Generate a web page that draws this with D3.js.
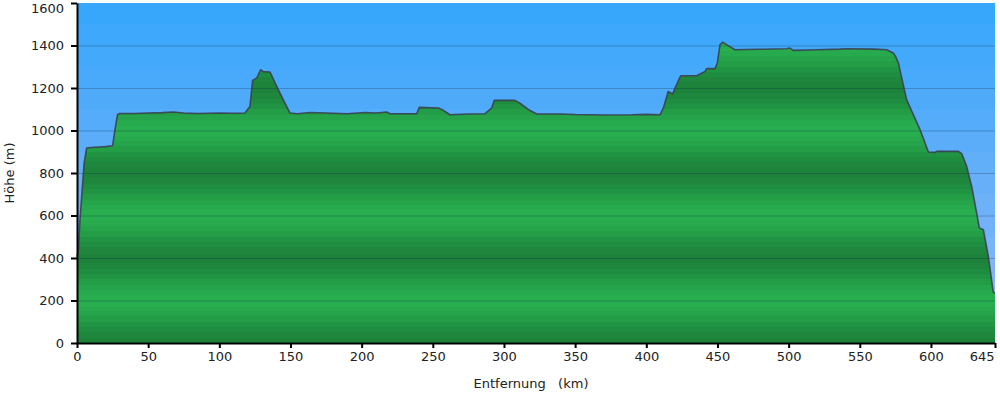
<!DOCTYPE html>
<html>
<head>
<meta charset="utf-8">
<script src="https://cdn.jsdelivr.net/npm/d3@7"></script>
<style>
  body { margin: 0; background: #fff; }
  svg { display: block; font-family: "DejaVu Sans", Verdana, sans-serif; }
  .tick text { font-size: 13px; fill: #222; }
</style>
</head>
<body>
<svg id="chart" width="1000" height="394"></svg>
<script>
// distance along the route (km) and elevation (m)
var distanceKm = [0, 1, 2, 3.3, 5, 6.8, 10, 15, 20, 25, 26.7, 28.5, 30, 40, 50, 60, 67.7, 75, 85, 100,
  110, 118, 121.5, 123.4, 126.3, 129, 131, 135.6, 142.6, 149.6, 155, 163.7, 175, 189.5, 202.3, 210,
  217.6, 220, 238.7, 240.5, 253.9, 257.4, 262, 275, 286.7, 291.4, 293.2, 307.7, 311.2, 318, 323,
  340, 350, 370, 390, 400, 409.6, 412, 415.4, 418.5, 420.2, 424.2, 435.4, 441.2, 442.4, 448.3,
  449.9, 451.8, 453.6, 456.4, 462.3, 480, 498.6, 500.9, 503.3, 520, 536, 540.8, 559.5, 568.9,
  573.5, 575, 577.1, 582.9, 592.3, 598.2, 602.9, 604.1, 619.3, 621.6, 625.1, 628.6, 632.1, 634,
  636.8, 640.3, 643.8, 645];
var elevationM = [405, 440, 570, 690, 847, 918, 920, 922, 924, 928, 1004, 1075, 1080, 1080, 1082, 1084, 1087, 1082, 1080, 1082,
  1081, 1082, 1113, 1236, 1247, 1286, 1277, 1275, 1176, 1082, 1079, 1085, 1082, 1079, 1085, 1082,
  1087, 1079, 1079, 1109, 1106, 1095, 1074, 1078, 1079, 1106, 1142, 1142, 1129, 1095, 1078,
  1078, 1075, 1073, 1074, 1076, 1074, 1106, 1184, 1172, 1200, 1258, 1258, 1278, 1291, 1291,
  1318, 1404, 1415, 1404, 1380, 1382, 1385, 1388, 1377, 1380, 1383, 1385, 1383, 1380,
  1365, 1350, 1318, 1145, 1004, 899, 897, 902, 902, 891, 831, 737, 612, 541,
  533, 408, 238, 238];

var xTicks = [0, 50, 100, 150, 200, 250, 300, 350, 400, 450, 500, 550, 600, 645];
var yTicks = [0, 200, 400, 600, 800, 1000, 1200, 1400, 1600];

var profile = distanceKm.map(function (d, i) { return { km: d, m: elevationM[i] }; });

var margin = { top: 3, right: 5, bottom: 51, left: 77 };
var outerWidth = 1000, outerHeight = 394;
var width = outerWidth - margin.left - margin.right;
var height = outerHeight - margin.top - margin.bottom;

var svg = d3.select('#chart');
var defs = svg.append('defs');

var x = d3.scaleLinear().domain([0, 645]).range([0, width]);
var y = d3.scaleLinear().domain([0, 1600]).range([height, 0]);

// sky: light at the bottom, deep blue at the top, in steps of 100 m
var sky = defs.append('linearGradient')
  .attr('id', 'sky').attr('gradientUnits', 'userSpaceOnUse')
  .attr('x1', 0).attr('x2', 0).attr('y1', y(0)).attr('y2', y(1600));
var skyColor = d3.interpolateRgb('#91b7f6', '#37a7fc');
for (var s = 0; s < 16; s++) {
  var c = skyColor(s / 15);
  sky.append('stop').attr('offset', s / 16).attr('stop-color', c);
  sky.append('stop').attr('offset', (s + 1) / 16).attr('stop-color', c);
}

// ground: banded green, darkest at every 400 m
var ground = defs.append('linearGradient')
  .attr('id', 'ground').attr('gradientUnits', 'userSpaceOnUse')
  .attr('x1', 0).attr('x2', 0).attr('y1', y(0)).attr('y2', y(1600));
var groundColor = d3.interpolateRgb('#1d833b', '#28ae4f');
var bands = 64;
for (var b = 0; b < bands; b++) {
  var mid = (b + 0.5) * 1600 / bands;
  var t = (1 - Math.cos(2 * Math.PI * mid / 400)) / 2;
  var gc = groundColor(t);
  ground.append('stop').attr('offset', b / bands).attr('stop-color', gc);
  ground.append('stop').attr('offset', (b + 1) / bands).attr('stop-color', gc);
}

var g = svg.append('g').attr('transform', 'translate(' + margin.left + ',' + margin.top + ')');

g.append('rect').attr('width', width).attr('height', height).attr('fill', 'url(#sky)');

var area = d3.area()
  .x(function (d) { return x(d.km); })
  .y0(y(0))
  .y1(function (d) { return y(d.m); });

g.append('path').datum(profile)
  .attr('d', area)
  .attr('fill', 'url(#ground)');

// grid lines over sky and ground
g.append('g').selectAll('line')
  .data(yTicks.slice(1, -1))
  .enter().append('line')
  .attr('x1', 0).attr('x2', width)
  .attr('y1', function (d) { return y(d) + 0.5; })
  .attr('y2', function (d) { return y(d) + 0.5; })
  .attr('stroke', 'rgba(10,40,70,0.28)')
  .attr('stroke-width', 1);

var line = d3.line()
  .x(function (d) { return x(d.km); })
  .y(function (d) { return y(d.m); });

g.append('path').datum(profile)
  .attr('d', line)
  .attr('fill', 'none')
  .attr('stroke', '#3a3c4c')
  .attr('stroke-opacity', 0.85)
  .attr('stroke-width', 1.6)
  .attr('stroke-linejoin', 'round');

// axes
var yAxis = g.append('g')
  .call(d3.axisLeft(y).tickValues(yTicks).tickFormat(d3.format('d'))
    .tickSize(6).tickSizeOuter(0).tickPadding(7));
var xAxis = g.append('g')
  .attr('transform', 'translate(0,' + height + ')')
  .call(d3.axisBottom(x).tickValues(xTicks).tickFormat(d3.format('d'))
    .tickSize(5).tickSizeOuter(0).tickPadding(4));

[yAxis, xAxis].forEach(function (ax) {
  ax.select('.domain').attr('stroke', '#000').attr('stroke-width', 2);
  ax.selectAll('.tick line').attr('stroke', '#000').attr('stroke-width', 2);
  ax.attr('font-family', null).attr('font-size', null);
});

// keep the end labels inside the picture
yAxis.selectAll('.tick text').filter(function (d) { return d === 1600; }).attr('dy', '0.7em');
xAxis.selectAll('.tick text').filter(function (d) { return d === 645; })
  .attr('text-anchor', 'end').attr('x', -1);

svg.append('text')
  .attr('x', margin.left + width / 2 - 5)
  .attr('y', 388)
  .attr('text-anchor', 'middle')
  .attr('font-size', 13)
  .attr('fill', '#222')
  .attr('xml:space', 'preserve')
  .text('Entfernung   (km)');

svg.append('text')
  .attr('transform', 'translate(14,' + (margin.top + height / 2) + ') rotate(-90)')
  .attr('text-anchor', 'middle')
  .attr('font-size', 13)
  .attr('fill', '#222')
  .text('Höhe (m)');
</script>
</body>
</html>
